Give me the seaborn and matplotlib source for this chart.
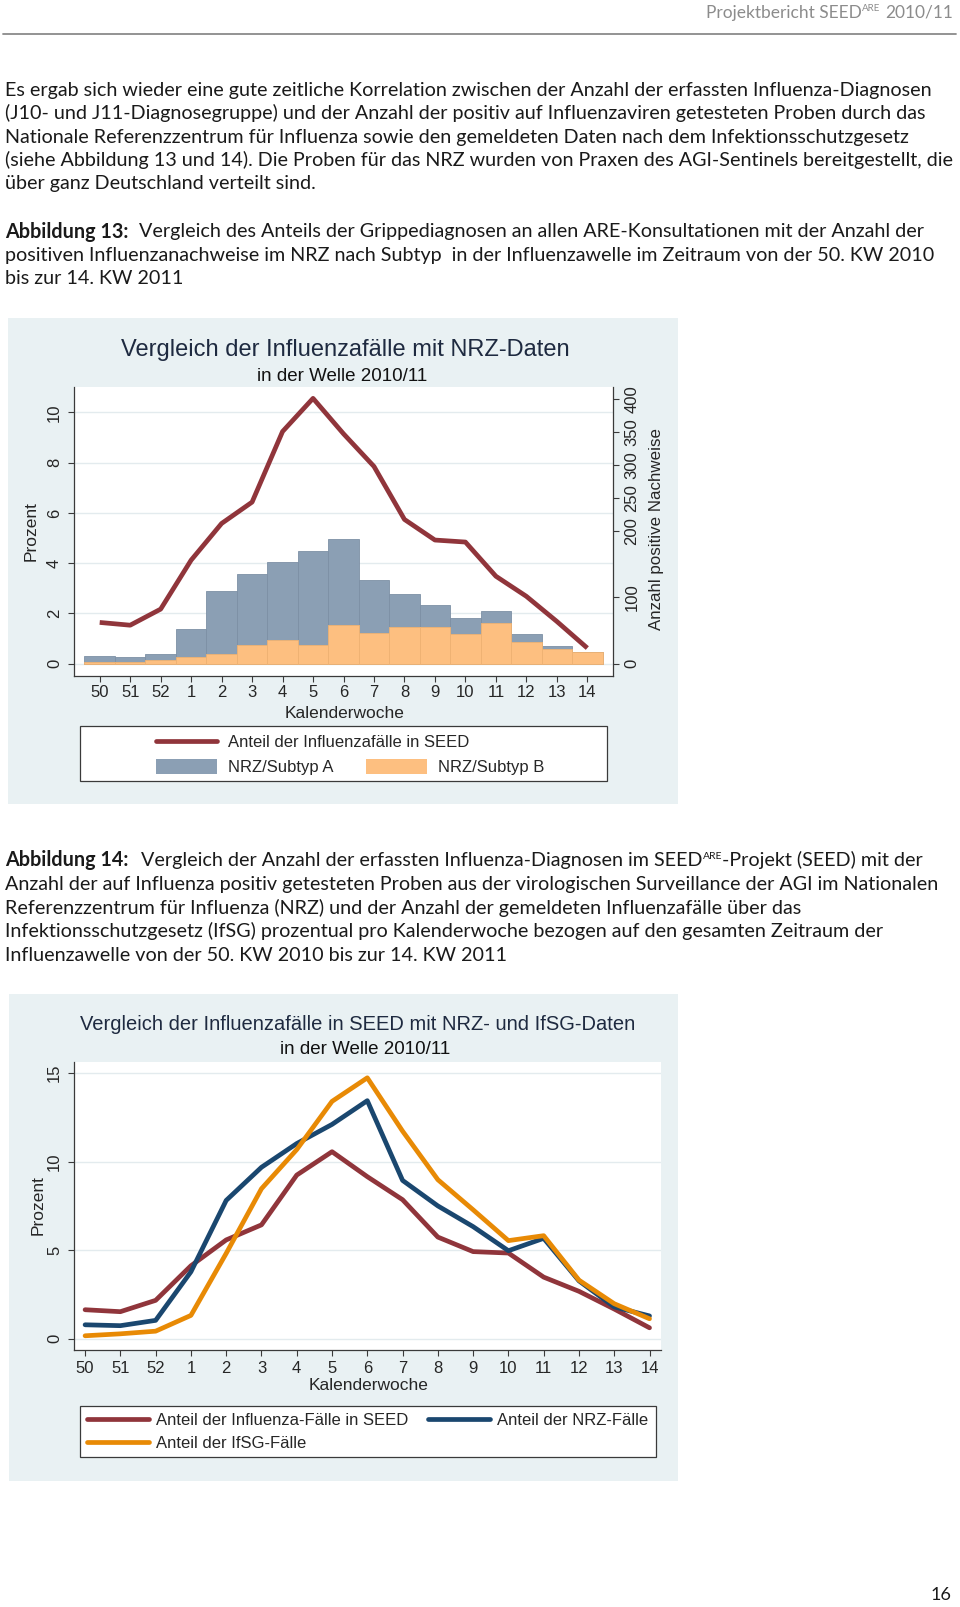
import numpy as np
import pandas as pd
import matplotlib
matplotlib.use("Agg")
import matplotlib.pyplot as plt
import seaborn as sns
from matplotlib.patches import Rectangle, Patch
from matplotlib.lines import Line2D
from matplotlib.transforms import blended_transform_factory

# ---------------- data ----------------
weeks = ["50", "51", "52", "1", "2", "3", "4", "5", "6", "7", "8", "9", "10", "11", "12", "13", "14"]
seed_pct = [1.64, 1.53, 2.17, 4.12, 5.58, 6.43, 9.24, 10.56, 9.15, 7.85, 5.74, 4.92, 4.84, 3.48, 2.68, 1.68, 0.62]
nrz_a = [9, 8, 10, 43, 95, 108, 118, 142, 131, 80, 50, 33, 24, 18, 12, 4, 1]
nrz_b = [2, 2, 5, 10, 14, 28, 36, 28, 58, 46, 55, 55, 45, 62, 33, 22, 17]
nrz_pct = [0.79, 0.74, 1.04, 3.78, 7.81, 9.68, 11.02, 12.10, 13.44, 8.94, 7.50, 6.33, 4.97, 5.67, 3.27, 1.80, 1.29]
ifsg_pct = [0.17, 0.28, 0.43, 1.32, 4.82, 8.47, 10.68, 13.40, 14.73, 11.72, 8.98, 7.28, 5.54, 5.82, 3.31, 1.98, 1.13]

left_ticks1 = [0, 2, 4, 6, 8, 10]
right_ticks1 = [0, 100, 200, 250, 300, 350, 400]
ticks2 = [0, 5, 10, 15]

header_main = "Projektbericht SEED"
header_sup = "ARE"
header_year = "2010/11"
body_lines = [
    "Es ergab sich wieder eine gute zeitliche Korrelation zwischen der Anzahl der erfassten Influenza-Diagnosen",
    "(J10- und J11-Diagnosegruppe) und der Anzahl der positiv auf Influenzaviren getesteten Proben durch das",
    "Nationale Referenzzentrum für Influenza sowie den gemeldeten Daten nach dem Infektionsschutzgesetz",
    "(siehe Abbildung 13 und 14). Die Proben für das NRZ wurden von Praxen des AGI-Sentinels bereitgestellt, die",
    "über ganz Deutschland verteilt sind.",
]
abb13_label = "Abbildung 13:"
abb13_lines = [
    "Vergleich des Anteils der Grippediagnosen an allen ARE-Konsultationen mit der Anzahl der",
    "positiven Influenzanachweise im NRZ nach Subtyp  in der Influenzawelle im Zeitraum von der 50. KW 2010",
    "bis zur 14. KW 2011",
]
abb14_label = "Abbildung 14:"
abb14_first = ["Vergleich der Anzahl der erfassten Influenza-Diagnosen im SEED", "ARE", "-Projekt (SEED) mit der"]
abb14_lines = [
    "Anzahl der auf Influenza positiv getesteten Proben aus der virologischen Surveillance der AGI im Nationalen",
    "Referenzzentrum für Influenza (NRZ) und der Anzahl der gemeldeten Influenzafälle über das",
    "Infektionsschutzgesetz (IfSG) prozentual pro Kalenderwoche bezogen auf den gesamten Zeitraum der",
    "Influenzawelle von der 50. KW 2010 bis zur 14. KW 2011",
]
title1 = "Vergleich der Influenzafälle mit NRZ-Daten"
title2 = "Vergleich der Influenzafälle in SEED mit NRZ- und IfSG-Daten"
subtitle = "in der Welle 2010/11"
xlab = "Kalenderwoche"
ylab = "Prozent"
ylab_r = "Anzahl positive Nachweise"
leg1_labels = ["Anteil der Influenzafälle in SEED", "NRZ/Subtyp A", "NRZ/Subtyp B"]
leg2_labels = ["Anteil der Influenza-Fälle in SEED", "Anteil der IfSG-Fälle", "Anteil der NRZ-Fälle"]
page_no = "16"

# ---------------- style ----------------
sns.set_style("white")
plt.rcParams["font.family"] = ["Liberation Sans", "DejaVu Sans"]
BODY_FONT = ["Lato", "DejaVu Sans"]
BODY_FS = 14.2
TXT = "#1a1a1a"
PANEL = "#e9f1f3"
GRID = "#e3ebee"
MAROON = "#90353b"
NAVY = "#1a476f"
ORANGE = "#e88a05"
COL_A = "#8b9fb4"
COL_B = "#fdbf80"
AXC = "#3a3a3a"
TITLE_C = "#1e2a40"

W, H = 960, 1607
fig = plt.figure(figsize=(W / 100, H / 100), dpi=100)
fig.patch.set_facecolor("white")


def fx(x):
    return x / W


def fy(y):
    return 1 - y / H


def add_ax(l, t, r, b):
    return fig.add_axes([fx(l), fy(b), (r - l) / W, (b - t) / H])


renderer = fig.canvas.get_renderer()


def runs(x, base, parts, right=None):
    arts = []
    cur = x
    for p in parts:
        cur += p.get("gap", 0)
        if "at" in p:
            cur = p["at"]
        t = fig.text(fx(cur), fy(base - p.get("dy", 0)), p["s"], ha="left", va="baseline",
                     fontsize=p.get("size", BODY_FS), fontweight=p.get("weight", "normal"),
                     color=p.get("color", TXT), family=BODY_FONT)
        cur = t.get_window_extent(renderer=renderer).x1
        arts.append(t)
    if right is not None:
        shift = (right - cur) / W
        for t in arts:
            t.set_x(t.get_position()[0] + shift)
    return cur


# ---------------- page text ----------------
HG = "#8c8c8c"
runs(0, 18, [dict(s=header_main, size=12.5, color=HG),
             dict(s=header_sup, size=7, color=HG, dy=7),
             dict(s=header_year, size=12.5, color=HG, gap=5)], right=953)
fig.add_artist(Line2D([fx(3), fx(956)], [fy(34), fy(34)], color="#8a8a8a", lw=1.3))

for i, line in enumerate(body_lines):
    runs(5, 96 + i * 23.3, [dict(s=line)])

runs(5, 237.5, [dict(s=abb13_label, weight="bold"), dict(s=abb13_lines[0], at=139)])
for i, line in enumerate(abb13_lines[1:]):
    runs(5, 261 + i * 23.5, [dict(s=line)])

runs(5, 866.5, [dict(s=abb14_label, weight="bold"), dict(s=abb14_first[0], at=141),
                dict(s=abb14_first[1], size=7.5, dy=7.5), dict(s=abb14_first[2])])
for i, line in enumerate(abb14_lines):
    runs(5, 890 + i * 23.6, [dict(s=line)])

runs(0, 1600, [dict(s=page_no, size=13)], right=951)

# ---------------- panels ----------------
fig.add_artist(Rectangle((fx(8), fy(804)), (678 - 8) / W, (804 - 317.6) / H,
                         transform=fig.transFigure, facecolor=PANEL, edgecolor="none", zorder=0))
fig.add_artist(Rectangle((fx(9), fy(1481)), (678 - 9) / W, (1481 - 994) / H,
                         transform=fig.transFigure, facecolor=PANEL, edgecolor="none", zorder=0))

pos = np.arange(len(weeks))

# ---------------- chart 1 ----------------
ax1 = add_ax(73.8, 387.3, 612.6, 676.2)
ax1b = ax1.twinx()
ax1.set_zorder(ax1b.get_zorder() + 1)
ax1.patch.set_visible(False)
ax1b.patch.set_visible(True)
ax1b.patch.set_facecolor("white")

df1 = pd.DataFrame({"KW": weeks, "A": nrz_a, "B": nrz_b, "SEED": seed_pct, "pos": pos})
df1["AB"] = df1["A"] + df1["B"]
sns.barplot(data=df1, x="KW", y="AB", order=weeks, color=COL_A, saturation=1, width=1,
            edgecolor="#7d90a5", linewidth=0.6, errorbar=None, ax=ax1b, zorder=2)
sns.barplot(data=df1, x="KW", y="B", order=weeks, color=COL_B, saturation=1, width=1,
            edgecolor="#efb272", linewidth=0.6, errorbar=None, ax=ax1b, zorder=3)
sns.lineplot(data=df1, x="pos", y="SEED", sort=False, color=MAROON, lw=3.4, ax=ax1,
             legend=False, solid_capstyle="butt")

ax1.set_xlim(-0.85, 16.83)
ax1.set_ylim(-0.5, 11.0)
ax1b.set_ylim(-19, 417.5)
ax1.set_xticks(pos)
ax1.set_xticklabels(weeks)
ax1.set_yticks(left_ticks1)
ax1b.set_yticks(right_ticks1)

gtr = blended_transform_factory(ax1b.transAxes, ax1.transData)
for v in left_ticks1:
    ax1b.add_line(Line2D([0, 1], [v, v], transform=gtr, color=GRID, lw=1.0, zorder=0.5))

for sp in ["top", "right"]:
    ax1.spines[sp].set_visible(False)
for sp in ["top", "left", "bottom"]:
    ax1b.spines[sp].set_visible(False)
for a in (ax1, ax1b):
    for sp in a.spines.values():
        sp.set_color(AXC)
        sp.set_linewidth(0.9)

ax1.tick_params(axis="x", direction="out", length=4, width=0.8, color=AXC, labelsize=12, pad=2.5, bottom=True)
ax1.tick_params(axis="y", direction="out", length=4, width=0.8, color=AXC, labelsize=12, pad=4.5,
                labelrotation=90, left=True)
ax1b.tick_params(axis="y", direction="out", length=4, width=0.8, color=AXC, labelsize=12, pad=4.5,
                 labelrotation=90, right=True)
plt.setp(ax1.get_yticklabels(), va="center")
plt.setp(ax1b.get_yticklabels(), va="center")

ax1.set_xlabel(xlab, fontsize=12.5)
ax1.xaxis.set_label_coords(fx(344.3), fy(714), transform=fig.transFigure)
ax1.xaxis.label.set_va("center")
ax1.set_ylabel(ylab, fontsize=12.5)
ax1.yaxis.set_label_coords(fx(31), fy(531), transform=fig.transFigure)
ax1.yaxis.label.set_va("center")
ax1b.set_xlabel("")
ax1b.set_ylabel(ylab_r, fontsize=12.2)
ax1b.yaxis.set_label_coords(fx(657), fy(528.6), transform=fig.transFigure)
ax1b.yaxis.label.set_va("center")
ax1b.yaxis.label.set_rotation(90)

fig.text(fx(345.8), fy(350), title1, ha="center", va="center", fontsize=17, color=TITLE_C)
fig.text(fx(341.7), fy(376.5), subtitle, ha="center", va="center", fontsize=13.5, color="#111111")

# legend 1
fig.add_artist(Rectangle((fx(80), fy(780.7)), (606.5 - 80) / W, (780.7 - 726.4) / H,
                         transform=fig.transFigure, facecolor="white", edgecolor=AXC, lw=0.9, zorder=1))
l1a = fig.legend(handles=[Line2D([], [], color=MAROON, lw=3.4)], labels=[leg1_labels[0]],
                 loc="center left", bbox_to_anchor=(fx(155.7), fy(742.7)), bbox_transform=fig.transFigure,
                 frameon=False, borderpad=0, borderaxespad=0, handlelength=3.7, handletextpad=0.66, fontsize=12)
l1b = fig.legend(handles=[Patch(facecolor=COL_A, edgecolor="none"), Patch(facecolor=COL_B, edgecolor="none")],
                 labels=leg1_labels[1:], ncol=2,
                 loc="center left", bbox_to_anchor=(fx(155.7), fy(767.3)), bbox_transform=fig.transFigure,
                 frameon=False, borderpad=0, borderaxespad=0, handlelength=3.7, handleheight=1.0,
                 handletextpad=0.66, columnspacing=1.9, fontsize=12)
l1a.set_zorder(3)
l1b.set_zorder(3)

# ---------------- chart 2 ----------------
ax2 = add_ax(73.8, 1062.4, 660.8, 1350.3)
ax2.set_facecolor("white")
long2 = pd.DataFrame({
    "pos": np.concatenate([pos, pos, pos]),
    "val": seed_pct + nrz_pct + ifsg_pct,
    "Reihe": ["SEED"] * len(weeks) + ["NRZ"] * len(weeks) + ["IfSG"] * len(weeks),
})
sns.lineplot(data=long2, x="pos", y="val", hue="Reihe", hue_order=["SEED", "NRZ", "IfSG"],
             palette={"SEED": MAROON, "NRZ": NAVY, "IfSG": ORANGE}, sort=False, lw=3.4,
             legend=False, ax=ax2)
ax2.set_xlim(-0.32, 16.32)
ax2.set_ylim(-0.65, 15.6)
ax2.set_xticks(pos)
ax2.set_xticklabels(weeks)
ax2.set_yticks(ticks2)
ax2.grid(axis="y", color=GRID, lw=1.0)
ax2.grid(axis="x", visible=False)
ax2.set_axisbelow(True)
for sp in ["top", "right"]:
    ax2.spines[sp].set_visible(False)
for sp in ["left", "bottom"]:
    ax2.spines[sp].set_color(AXC)
    ax2.spines[sp].set_linewidth(0.9)
ax2.tick_params(axis="x", direction="out", length=4, width=0.8, color=AXC, labelsize=12, pad=3.5, bottom=True)
ax2.tick_params(axis="y", direction="out", length=4, width=0.8, color=AXC, labelsize=12, pad=4.5,
                labelrotation=90, left=True)
plt.setp(ax2.get_yticklabels(), va="center")
ax2.set_xlabel(xlab, fontsize=12.5)
ax2.xaxis.set_label_coords(fx(368.3), fy(1385), transform=fig.transFigure)
ax2.xaxis.label.set_va("center")
ax2.set_ylabel(ylab, fontsize=12.5)
ax2.yaxis.set_label_coords(fx(38), fy(1205), transform=fig.transFigure)
ax2.yaxis.label.set_va("center")

fig.text(fx(358), fy(1024), title2, ha="center", va="center", fontsize=14.5, color=TITLE_C)
fig.text(fx(364.7), fy(1049.5), subtitle, ha="center", va="center", fontsize=13.5, color="#111111")

fig.add_artist(Rectangle((fx(80), fy(1456.8)), (655.7 - 80) / W, (1456.8 - 1405.6) / H,
                         transform=fig.transFigure, facecolor="white", edgecolor=AXC, lw=0.9, zorder=1))
l2 = fig.legend(handles=[Line2D([], [], color=MAROON, lw=3.4), Line2D([], [], color=ORANGE, lw=3.4),
                         Line2D([], [], color=NAVY, lw=3.4)],
                labels=leg2_labels, ncol=2, loc="center left",
                bbox_to_anchor=(fx(87), fy(1432)), bbox_transform=fig.transFigure,
                frameon=False, borderpad=0, borderaxespad=0, handlelength=3.7, handletextpad=0.45,
                columnspacing=1.17, labelspacing=0.48, fontsize=12)
l2.set_zorder(3)

fig.savefig("out.png", dpi=100)
